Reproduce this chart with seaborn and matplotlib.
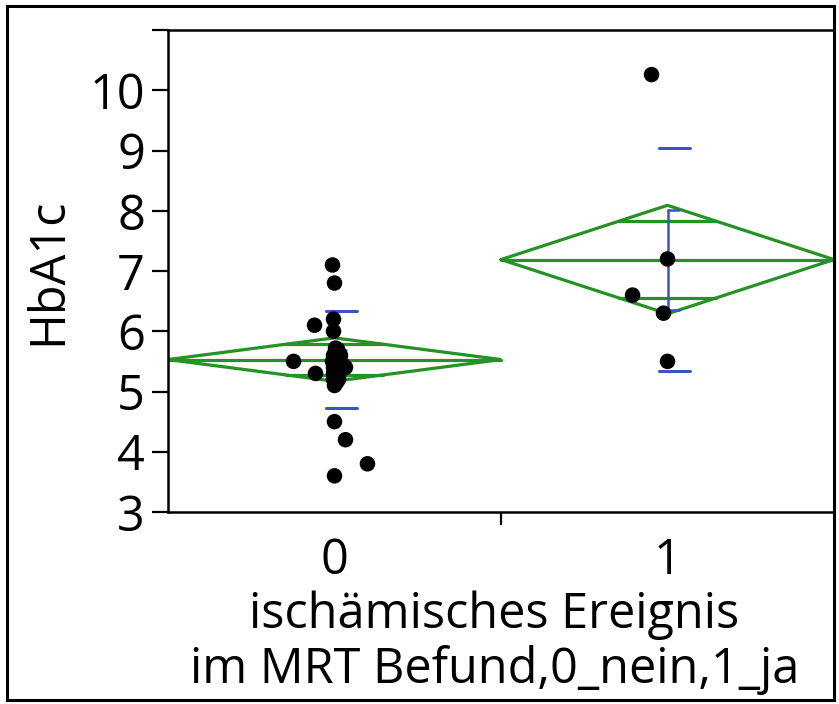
import matplotlib
matplotlib.use("Agg")
import matplotlib.pyplot as plt
from matplotlib.patches import Rectangle
import seaborn as sns
import pandas as pd
import numpy as np

# ---- data ----
groups = ["0", "1"]
hba1c_0 = [7.1, 6.8, 6.2, 6.1, 6.0, 5.72, 5.65, 5.6, 5.55, 5.5, 5.5, 5.45, 5.4, 5.35,
           5.3, 5.3, 5.25, 5.2, 5.15, 5.1, 4.5, 4.2, 3.8, 3.6,
           5.7, 5.5, 5.4, 5.3, 5.6, 5.2, 5.5]
jitter_0 = [-0.006, 0.0, -0.003, -0.060, -0.003, 0.003, 0.012, -0.003, 0.006, -0.123,
            -0.006, 0.024, 0.033, 0.0, -0.057, -0.003, 0.012, -0.003, 0.006, 0.0,
            0.0, 0.033, 0.099, 0.0,
            0.009, 0.015, -0.003, 0.009, 0.018, 0.012, 0.003]
hba1c_1 = [10.26, 7.2, 6.6, 6.3, 5.5]
jitter_1 = [-0.048, 0.0, -0.105, -0.012, 0.0]

group_means = [5.53, 7.19]
ci_half = [0.36, 0.90]      # half height of means diamonds
std_dev = [0.81, 1.85]      # std dev lines
std_err = [0.16, 0.83]      # mean error bars

y_ticks = [3, 4, 5, 6, 7, 8, 9, 10, 11]
y_ticklabels = ["3", "4", "5", "6", "7", "8", "9", "10", ""]

GREEN = "#249224"
BLUE = "#3d52c4"
FS = 35

sns.set_style("white")
plt.rcParams["font.family"] = ["Open Sans", "DejaVu Sans"]
plt.rcParams["text.color"] = "black"
plt.rcParams["axes.labelcolor"] = "black"
plt.rcParams["xtick.color"] = "black"
plt.rcParams["ytick.color"] = "black"

df = pd.DataFrame({
    "group": [0] * len(hba1c_0) + [1] * len(hba1c_1),
    "HbA1c": hba1c_0 + hba1c_1,
    "jit": jitter_0 + jitter_1,
})
df["xpos"] = df["group"] + df["jit"]

fig = plt.figure(figsize=(8.39, 7.04), dpi=100)
ax = fig.add_axes([168 / 839, 1 - 512 / 704, (834 - 168) / 839, (512 - 30) / 704])

LW = 2.3
# means diamonds
for i, (m, c) in enumerate(zip(group_means, ci_half)):
    left, right = i - 0.5, i + 0.5
    ax.plot([left, i, right, i, left], [m, m + c, m, m - c, m],
            color=GREEN, lw=LW, solid_joinstyle="miter", zorder=2)
    ax.plot([left, right], [m, m], color=GREEN, lw=LW, zorder=2)
    k = np.sqrt(2) / 2
    hw = 0.5 * (1 - k)
    for s in (1, -1):
        ax.plot([i - hw, i + hw], [m + s * k * c] * 2, color=GREEN, lw=LW, zorder=2)

# std dev lines and mean error bars
for i, (m, sd, se) in enumerate(zip(group_means, std_dev, std_err)):
    for s in (1, -1):
        ax.plot([i - 0.027, i + 0.069], [m + s * sd] * 2, color=BLUE, lw=2.2, zorder=2)
    ax.plot([i, i], [m - se, m + se], color=BLUE, lw=1.8, zorder=2)
    for s in (1, -1):
        ax.plot([i, i + 0.036], [m + s * se] * 2, color=BLUE, lw=1.8, zorder=2)

sns.scatterplot(data=df, x="xpos", y="HbA1c", ax=ax, color="black", s=125,
                edgecolor="none", zorder=3, legend=False)

ax.set_xlim(-0.5, 1.5)
ax.set_ylim(3, 11)
ax.set_yticks(y_ticks)
ax.set_yticklabels(y_ticklabels)
ax.set_xticks([0.5])
ax.set_xticklabels([""])
ax.set_xticks([0, 1], minor=True)
ax.set_xticklabels(groups, minor=True)

ax.tick_params(axis="y", which="major", direction="out", length=11.5, width=1.6,
               color="black", labelsize=FS, pad=5, left=True, labelcolor="black")
ax.tick_params(axis="x", which="major", direction="out", length=9, width=1.6,
               color="black", bottom=True)
ax.tick_params(axis="x", which="minor", length=0, labelsize=FS, pad=18,
               labelcolor="black")

for sp in ax.spines.values():
    sp.set_color("black")
    sp.set_linewidth(1.8)

ax.set_xlabel("ischämisches Ereignis\nim MRT Befund,0_nein,1_ja", fontsize=FS,
              linespacing=1.15, labelpad=0, color="black")
ax.xaxis.set_label_coords(0.49, -0.162, transform=ax.transAxes)
ax.xaxis.label.set_va("top")
ax.set_ylabel("HbA1c", fontsize=FS, labelpad=12, color="black")

fig.patches.append(Rectangle((7 / 839, 4 / 704), (834 - 7) / 839, 694 / 704,
                             transform=fig.transFigure, fill=False, lw=2.2,
                             ec="black", zorder=10))

fig.savefig("out.png", dpi=100)
